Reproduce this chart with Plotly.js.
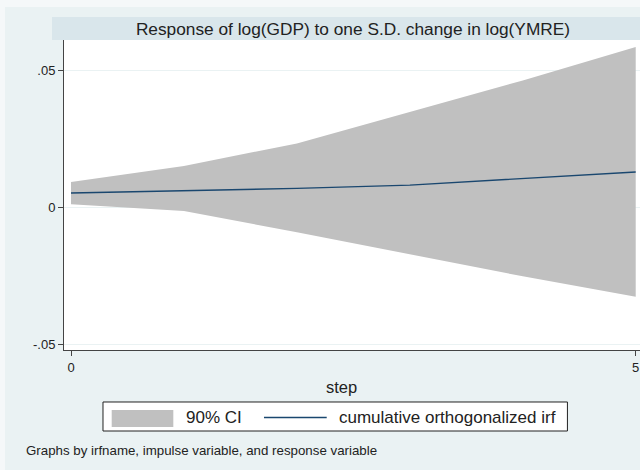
<!DOCTYPE html>
<html>
<head>
<meta charset="utf-8">
<script src="https://cdn.plot.ly/plotly-3.0.1.min.js"></script>
<style>
  html, body { margin: 0; padding: 0; background: #f5f8f9; width: 640px; height: 470px; overflow: hidden; }
  #chart { position: absolute; left: 5px; top: 7px; width: 635px; height: 463px; }
</style>
</head>
<body>
<div id="chart"></div>
<script>
// Data
const steps = [0, 1, 2, 3, 4, 5];
const irf   = [0.0051, 0.0059, 0.0068, 0.0080, 0.0104, 0.0128];
const lower = [0.0010, -0.0015, -0.0092, -0.0173, -0.0253, -0.0328];
const upper = [0.0091, 0.0150, 0.0232, 0.0346, 0.0462, 0.0584];
const yTickVals = [-0.05, 0, 0.05];
const yTickText = ['-.05', '0', '.05'];
const xTickVals = [0, 5];
const xTickText = ['0', '5'];
const titleText = 'Response of log(GDP) to one S.D. change in log(YMRE)';
const xTitle = 'step';
const legendCI = '90% CI';
const legendLine = 'cumulative orthogonalized irf';
const noteText = 'Graphs by irfname, impulse variable, and response variable';

const FONT = 'Liberation Sans, Arial, Helvetica, sans-serif';
const BAND = '#c0c0c0';
const LINE = '#1a476f';

const traces = [
  { x: steps, y: lower, type: 'scatter', mode: 'lines', line: { width: 0, color: BAND },
    showlegend: false, hoverinfo: 'skip' },
  { x: steps, y: upper, type: 'scatter', mode: 'lines', line: { width: 0, color: BAND },
    fill: 'tonexty', fillcolor: BAND, name: legendCI, showlegend: false },
  { x: steps, y: irf, type: 'scatter', mode: 'lines', line: { width: 1.4, color: LINE },
    name: legendLine, showlegend: false }
];

const layout = {
  width: 635, height: 463,
  paper_bgcolor: '#eaf2f3',
  plot_bgcolor: '#ffffff',
  margin: { l: 59, r: 0, t: 33, b: 120, pad: 0 },
  font: { family: FONT, color: '#222', size: 13 },
  title: {
    text: titleText,
    font: { family: FONT, size: 17.3, color: '#222' },
    xref: 'container', x: 0.548, xanchor: 'center',
    yref: 'container', y: 0.9536, yanchor: 'middle'
  },
  xaxis: {
    range: [-0.062, 5.038],
    tickvals: xTickVals, ticktext: xTickText,
    ticks: 'outside', ticklen: 5, tickcolor: '#444', tickwidth: 1,
    showline: true, linecolor: '#444', linewidth: 1,
    showgrid: false, zeroline: false,
    tickfont: { family: FONT, size: 13, color: '#222' }
  },
  yaxis: {
    range: [-0.05219, 0.06095],
    tickvals: yTickVals, ticktext: yTickText,
    ticks: 'outside', ticklen: 5, tickcolor: '#444', tickwidth: 1,
    showline: true, linecolor: '#444', linewidth: 1,
    showgrid: true, gridcolor: '#eaf2f3', gridwidth: 1, zeroline: false,
    tickfont: { family: FONT, size: 13, color: '#222' }
  },
  showlegend: false,
  shapes: [
    // title bar
    { type: 'rect', xref: 'paper', yref: 'paper', x0: -0.0208, x1: 1.01, y0: 1.0, y1: 1.0742,
      fillcolor: '#d9e6eb', line: { width: 0 }, layer: 'below' },
    // legend box
    { type: 'rect', xref: 'paper', yref: 'paper', x0: 0.0677, x1: 0.874, y0: -0.1677, y1: -0.2613,
      fillcolor: '#ffffff', line: { width: 1, color: '#222' } },
    // CI swatch
    { type: 'rect', xref: 'paper', yref: 'paper', x0: 0.0828, x1: 0.1898, y0: -0.1935, y1: -0.2484,
      fillcolor: BAND, line: { width: 0 } },
    // line swatch
    { type: 'line', xref: 'paper', yref: 'paper', x0: 0.3472, x1: 0.4561, y0: -0.2177, y1: -0.2177,
      line: { width: 1.4, color: LINE } }
  ],
  annotations: [
    { text: xTitle, xref: 'paper', yref: 'paper', x: 0.481, y: -0.119, xanchor: 'center', yanchor: 'middle',
      showarrow: false, font: { family: FONT, size: 16.5, color: '#222' } },
    { text: legendCI, xref: 'paper', yref: 'paper', x: 0.2078, y: -0.2177, xanchor: 'left', yanchor: 'middle',
      showarrow: false, font: { family: FONT, size: 17, color: '#222' } },
    { text: legendLine, xref: 'paper', yref: 'paper', x: 0.4734, y: -0.2177, xanchor: 'left', yanchor: 'middle',
      showarrow: false, font: { family: FONT, size: 17, color: '#222' } },
    { text: noteText, xref: 'paper', yref: 'paper', x: -0.0694, y: -0.3226, xanchor: 'left', yanchor: 'middle',
      showarrow: false, font: { family: FONT, size: 13.3, color: '#222' } }
  ]
};

Plotly.newPlot('chart', traces, layout, { displayModeBar: false, staticPlot: true });
</script>
</body>
</html>
